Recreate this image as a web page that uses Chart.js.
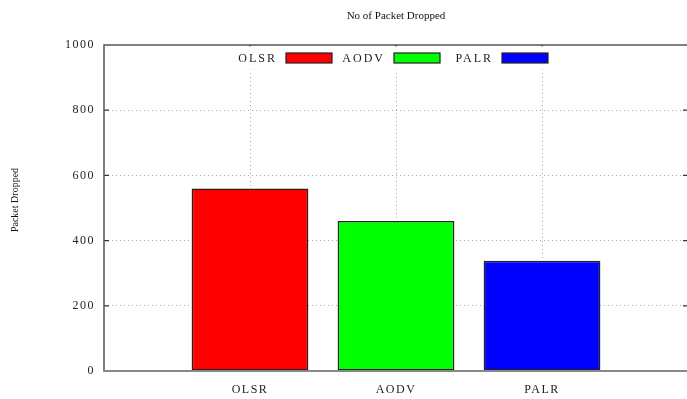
<!DOCTYPE html>
<html>
<head>
<meta charset="utf-8">
<script src="https://cdn.jsdelivr.net/npm/chart.js@4/dist/chart.umd.min.js"></script>
<style>
  html, body { margin: 0; padding: 0; background: #fff; overflow: hidden; }
  #wrap { width: 700px; height: 399px; }
</style>
</head>
<body>
<div id="wrap"><canvas id="c"></canvas></div>
<script>
// Routing protocols and the number of packets each one dropped
const categories = ['OLSR', 'AODV', 'PALR'];
const packetsDropped = [560, 460, 338];
const barColors = ['#ff0000', '#00ff00', '#0000ff'];
const chartTitle = 'No of Packet Dropped';
const yAxisTitle = 'Packet Dropped';

const FONT = '"Liberation Serif", "Times New Roman", serif';

// Frame, inward tick marks, title, rotated y title and the keyed legend
const gnuplotStyle = {
  id: 'gnuplotStyle',
  beforeDraw(chart) {
    chart.ctx.letterSpacing = '1.5px';
  },
  beforeDatasetsDraw(chart) {
    const { ctx, chartArea: a, scales: { x, y } } = chart;
    ctx.save();
    ctx.letterSpacing = '0px';
    ctx.strokeStyle = '#333';
    ctx.lineWidth = 1.2;
    ctx.beginPath();
    y.ticks.forEach(t => {
      if (t.value <= y.min || t.value >= y.max) return;
      const py = y.getPixelForValue(t.value);
      ctx.moveTo(a.left, py); ctx.lineTo(a.left + 5, py);
      ctx.moveTo(a.right, py); ctx.lineTo(a.right - 5, py);
    });
    categories.forEach((_, i) => {
      const px = x.getPixelForValue(i + 1);
      ctx.moveTo(px, a.top); ctx.lineTo(px, a.top + 5);
      ctx.moveTo(px, a.bottom); ctx.lineTo(px, a.bottom - 5);
    });
    ctx.stroke();
    ctx.restore();
  },
  afterDatasetsDraw(chart) {
    const { ctx, chartArea: a } = chart;
    ctx.save();
    ctx.letterSpacing = '0px';

    // plot border
    ctx.strokeStyle = '#555';
    ctx.lineWidth = 1.5;
    ctx.strokeRect(a.left, a.top, a.right - a.left, a.bottom - a.top);
    ctx.strokeStyle = '#888';
    ctx.lineWidth = 2;
    ctx.beginPath();
    ctx.moveTo(a.left, a.bottom); ctx.lineTo(a.right, a.bottom);
    ctx.stroke();

    // title
    ctx.fillStyle = '#111';
    ctx.font = '11px ' + FONT;
    ctx.textAlign = 'center';
    ctx.textBaseline = 'middle';
    ctx.fillText(chartTitle, (a.left + a.right) / 2, 16);

    // y-axis title
    ctx.save();
    ctx.translate(15, 200);
    ctx.rotate(-Math.PI / 2);
    ctx.font = '10px ' + FONT;
    ctx.fillText(yAxisTitle, 0, 0);
    ctx.restore();

    // key: label followed by a coloured sample
    ctx.fillStyle = '#fff';
    ctx.fillRect(226, a.top + 1.5, 332, 23);
    ctx.font = '12px ' + FONT;
    ctx.letterSpacing = '2px';
    ctx.textAlign = 'right';
    const keyY = 58;
    categories.forEach((name, i) => {
      const boxX = 286 + i * 108;
      ctx.fillStyle = '#222';
      ctx.fillText(name, boxX - 9, keyY + 1);
      ctx.fillStyle = barColors[i];
      ctx.fillRect(boxX, keyY - 5, 46, 10);
      ctx.strokeStyle = '#222';
      ctx.lineWidth = 1.2;
      ctx.strokeRect(boxX, keyY - 5, 46, 10);
    });
    ctx.restore();
  }
};

new Chart(document.getElementById('c'), {
  type: 'bar',
  data: {
    datasets: [{
      data: packetsDropped.map((v, i) => ({ x: i + 1, y: v })),
      backgroundColor: barColors,
      borderColor: '#222',
      borderWidth: 1.5,
      borderSkipped: false,
      categoryPercentage: 1,
      barPercentage: 0.8
    }]
  },
  options: {
    responsive: true,
    maintainAspectRatio: false,
    animation: false,
    events: [],
    layout: { padding: { top: 45, right: 10, left: 0, bottom: 0 } },
    plugins: {
      legend: { display: false },
      title: { display: false },
      tooltip: { enabled: false }
    },
    scales: {
      x: {
        type: 'linear',
        offset: false,
        min: 0,
        max: 4,
        afterFit(scale) { scale.height = 28; },
        ticks: {
          stepSize: 1,
          autoSkip: false,
          maxRotation: 0,
          padding: 12,
          color: '#222',
          font: { family: FONT, size: 12 },
          callback: v => categories[v - 1] || ''
        },
        grid: {
          offset: false,
          drawTicks: false,
          color: c => (c.tick && c.tick.value > 0 && c.tick.value < 4) ? '#aaa' : 'rgba(0,0,0,0)',
          lineWidth: 1
        },
        border: { display: false, dash: [1, 3] }
      },
      y: {
        min: 0,
        max: 1000,
        afterFit(scale) { scale.width = 104; },
        ticks: {
          stepSize: 200,
          padding: 9,
          color: '#222',
          font: { family: FONT, size: 12 },
          callback: v => String(v)
        },
        grid: {
          drawTicks: false,
          color: c => (c.tick && c.tick.value > 0 && c.tick.value < 1000) ? '#aaa' : 'rgba(0,0,0,0)',
          lineWidth: 1
        },
        border: { display: false, dash: [1, 3] }
      }
    }
  },
  plugins: [gnuplotStyle]
});
</script>
</body>
</html>
